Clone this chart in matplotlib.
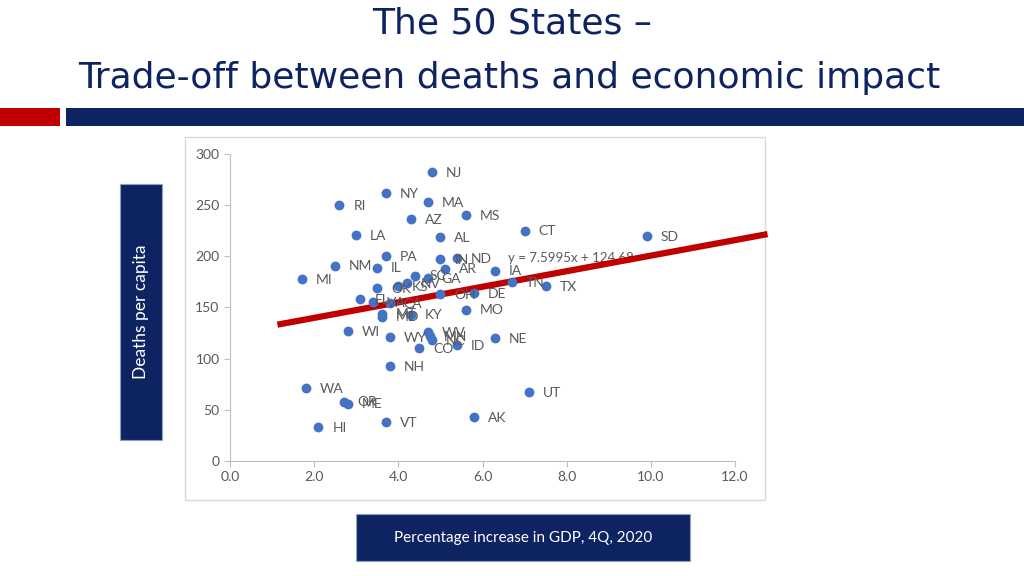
import matplotlib
matplotlib.use("Agg")
import matplotlib.pyplot as plt
from matplotlib.patches import Rectangle

# state, GDP increase (%), deaths per capita
states = ["NJ", "NY", "RI", "MA", "MS", "AZ", "CT", "LA", "AL", "SD",
          "PA", "IN", "ND", "NM", "IL", "AR", "IA", "MI", "SC", "GA",
          "OK", "KS", "NV", "TN", "TX", "OH", "DE", "FL", "VA", "CA",
          "MT", "MD", "KY", "MO", "WI", "WY", "WV", "MN", "NC", "ID",
          "CO", "NE", "NH", "WA", "OR", "ME", "UT", "AK", "HI", "VT"]
gdp = [4.8, 3.7, 2.6, 4.7, 5.6, 4.3, 7.0, 3.0, 5.0, 9.9,
       3.7, 5.0, 5.4, 2.5, 3.5, 5.1, 6.3, 1.7, 4.4, 4.7,
       3.5, 4.0, 4.2, 6.7, 7.5, 5.0, 5.8, 3.1, 3.4, 3.8,
       3.6, 3.6, 4.3, 5.6, 2.8, 3.8, 4.7, 4.75, 4.8, 5.4,
       4.5, 6.3, 3.8, 1.8, 2.7, 2.8, 7.1, 5.8, 2.1, 3.7]
deaths = [282, 262, 250, 253, 240, 236, 225, 221, 219, 220,
          200, 197, 198, 191, 189, 188, 186, 178, 181, 179,
          169, 171, 174, 175, 171, 163, 164, 158, 155, 154,
          144, 141, 143, 148, 127, 121, 126, 122, 118, 113,
          110, 120, 93, 71, 58, 56, 67, 43, 33, 38]

# excel linear trendline
slope = 7.5995
intercept = 124.68
trend_backward = 0.5
trend_forward = 2.8

navy = "#0E2462"
red = "#C00000"
dot_blue = "#4472C4"
grey_txt = "#595959"
title_font = ["Liberation Sans Narrow", "DejaVu Sans Condensed", "DejaVu Sans"]
body_font = ["Lato", "DejaVu Sans"]

fig = plt.figure(figsize=(10.24, 5.76), dpi=100)
fig.patch.set_facecolor("white")

# title
fig.text(0.5, 0.96, "The 50 States \u2013", ha="center", va="center",
         fontsize=26, color=navy, family=title_font)
fig.text(0.497, 0.864, "Trade-off between deaths and economic impact", ha="center", va="center",
         fontsize=26, color=navy, family=title_font)

# header bars
fig.patches.append(Rectangle((0, 1 - 126 / 576), 60 / 1024, 18 / 576, transform=fig.transFigure,
                             facecolor=red, edgecolor="none"))
fig.patches.append(Rectangle((66 / 1024, 1 - 126 / 576), 1 - 66 / 1024, 18 / 576, transform=fig.transFigure,
                             facecolor=navy, edgecolor="none"))

# chart frame (behind the axes)
fig.patches.append(Rectangle((185 / 1024, 1 - 500 / 576), 580 / 1024, 363 / 576, transform=fig.transFigure,
                             facecolor="white", edgecolor="#D9D9D9", linewidth=1, zorder=-1))

# axis label boxes
fig.patches.append(Rectangle((120 / 1024, 1 - 440 / 576), 42 / 1024, 256 / 576, transform=fig.transFigure,
                             facecolor=navy, edgecolor="#8FA0C8", linewidth=0.8))
fig.text(141 / 1024, 1 - 312 / 576, "Deaths per capita", rotation=90, ha="center", va="center",
         fontsize=12.5, color="white", family=body_font)
fig.patches.append(Rectangle((356 / 1024, 1 - 561 / 576), 334 / 1024, 47 / 576, transform=fig.transFigure,
                             facecolor=navy, edgecolor="#8FA0C8", linewidth=0.8))
fig.text(523 / 1024, 1 - 538 / 576, "Percentage increase in GDP, 4Q, 2020", ha="center", va="center",
         fontsize=11, color="white", family=body_font)

ax = fig.add_axes([230 / 1024, 1 - 461 / 576, 505 / 1024, 307 / 576])
ax.set_facecolor("none")
ax.scatter(gdp, deaths, s=50, color=dot_blue, zorder=3, linewidths=0)
for s, x, y in zip(states, gdp, deaths):
    ax.annotate(s, (x, y), xytext=(10, -0.5), textcoords="offset points", va="center", ha="left",
                fontsize=10, color=grey_txt, family=body_font, zorder=4)

tx = [min(gdp) - trend_backward, max(gdp) + trend_forward]
ty = [slope * v + intercept for v in tx]
ax.plot(tx, ty, color=red, linewidth=4.5, zorder=2, clip_on=False)
ax.text(6.6, 198, "y = 7.5995x + 124.68", fontsize=9.5, color=grey_txt, va="center",
        family=body_font, zorder=1)

ax.set_xlim(0, 12)
ax.set_ylim(0, 300)
ax.set_xticks([0, 2, 4, 6, 8, 10, 12])
ax.set_xticklabels(["0.0", "2.0", "4.0", "6.0", "8.0", "10.0", "12.0"])
ax.set_yticks([0, 50, 100, 150, 200, 250, 300])
for side in ["top", "right"]:
    ax.spines[side].set_visible(False)
for side in ["left", "bottom"]:
    ax.spines[side].set_color("#BFBFBF")
ax.tick_params(colors="#BFBFBF", labelcolor=grey_txt, labelsize=10, length=4)
for lab in ax.get_xticklabels() + ax.get_yticklabels():
    lab.set_family(body_font)

fig.savefig("out.png", dpi=100)
